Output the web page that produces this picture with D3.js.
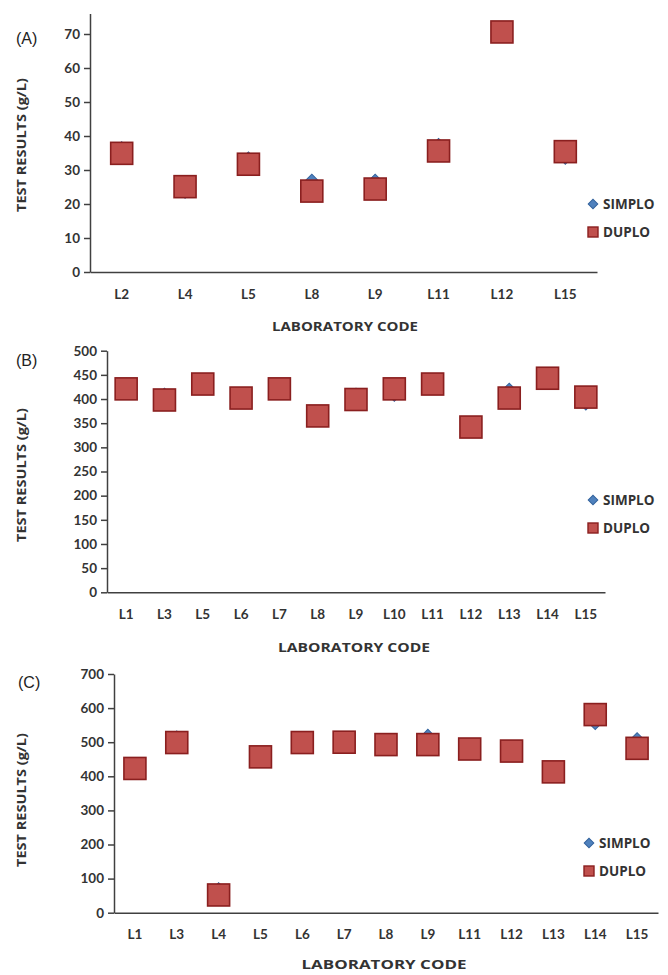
<!DOCTYPE html>
<html>
<head>
<meta charset="utf-8">
<script src="https://cdn.jsdelivr.net/npm/d3@7"></script>
<style>
  body { margin: 0; background: #fff; }
  svg text { font-family: Lato, "Open Sans", sans-serif; }
  .tick text { font-size: 13.5px; font-weight: bold; fill: #333; }
  .axis path, .axis line { stroke: #404040; stroke-width: 1.5; }
  .axis-title { font-size: 13px; font-weight: bold; fill: #333; font-family: "Open Sans", sans-serif !important; }
  .panel-label { font-size: 16px; fill: #222; font-family: "Liberation Sans", Arial, sans-serif !important; }
  .legend text { font-size: 13.5px; font-weight: bold; fill: #333; font-family: "Open Sans", sans-serif !important; }
</style>
</head>
<body>
<div id="chart"></div>
<script>
// ---- data ----
const labsA = ["L2", "L4", "L5", "L8", "L9", "L11", "L12", "L15"];
const simploA = [36.5, 23.5, 33.5, 27, 27, 37.5, 70.7, 33.5];
const duploA = [34.9, 25.1, 31.7, 23.8, 24.4, 35.6, 70.6, 35.4];
const ticksA = [0, 10, 20, 30, 40, 50, 60, 70];

const labsB = ["L1", "L3", "L5", "L6", "L7", "L8", "L9", "L10", "L11", "L12", "L13", "L14", "L15"];
const simploB = [430, 410, 440, 402, 421, 368, 410, 408, 440, 345, 420, 440, 390];
const duploB = [421, 398, 431, 402, 421, 365, 399, 421, 431, 342, 402, 443, 404];
const ticksB = [0, 50, 100, 150, 200, 250, 300, 350, 400, 450, 500];

const labsC = ["L1", "L3", "L4", "L5", "L6", "L7", "L8", "L9", "L11", "L12", "L13", "L14", "L15"];
const simploC = [420, 515, 70, 445, 510, 510, 505, 520, 480, 475, 410, 555, 510];
const duploC = [423, 499, 52, 457, 499, 500, 493, 493, 480, 474, 413, 581, 482];
const ticksC = [0, 100, 200, 300, 400, 500, 600, 700];

const seriesNames = ["SIMPLO", "DUPLO"];

class ScatterPanel {
    constructor(_config){
        this.config = _config;
        this.initVis();
    }

    initVis(){
        let vis = this;
        let c = vis.config;
        let key = c.label.replace(/[()]/g, '');

        vis.xScale = d3.scaleBand()
            .domain(c.labs)
            .range([c.left, c.right]);

        vis.yScale = d3.scaleLinear()
            .domain([0, c.yMax])
            .range([c.bottom, c.top]);

        // y axis
        vis.svg = c.svg;
        vis.svg.append("g")
            .attr("class", "axis y-axis")
            .attr("transform", `translate(${c.left},0)`)
            .call(d3.axisLeft(vis.yScale).tickValues(c.ticks).tickSize(6).tickPadding(4).tickSizeOuter(0));

        // x axis
        vis.svg.append("g")
            .attr("class", "axis x-axis")
            .attr("transform", `translate(0,${c.bottom})`)
            .call(d3.axisBottom(vis.xScale).tickSize(0).tickPadding(17).tickSizeOuter(0));

        // axis titles
        vis.svg.append("text")
            .attr("class", "axis-title")
            .attr("text-anchor", "middle")
            .attr("transform", `translate(${c.yTitleX},${c.yTitleY}) rotate(-90)`)
            .attr("textLength", 134)
            .attr("lengthAdjust", "spacingAndGlyphs")
            .text("TEST RESULTS (g/L)");

        vis.svg.append("text")
            .attr("class", "axis-title")
            .attr("text-anchor", "middle")
            .attr("x", c.xTitleX)
            .attr("y", c.xTitleY)
            .attr("textLength", c.xTitleW)
            .attr("lengthAdjust", "spacingAndGlyphs")
            .text("LABORATORY CODE");

        vis.svg.append("text")
            .attr("class", "panel-label")
            .attr("x", c.labelX)
            .attr("y", c.labelY)
            .text(c.label);

        // SIMPLO diamonds (behind)
        vis.svg.selectAll(".simplo" + key)
            .data(c.labs.map((l, i) => ({lab: l, v: c.simplo[i]})))
            .enter()
        .append("rect")
            .attr("class", "simplo" + key)
            .attr("x", -4.3).attr("y", -4.3)
            .attr("width", 8.6).attr("height", 8.6)
            .attr("transform", d => `translate(${vis.xScale(d.lab) + vis.xScale.bandwidth() / 2},${vis.yScale(d.v)}) rotate(45)`)
            .attr("fill", "#4F81BD")
            .attr("stroke", "#35649E")
            .attr("stroke-width", 1);

        // DUPLO squares (front)
        vis.svg.selectAll(".duplo" + key)
            .data(c.labs.map((l, i) => ({lab: l, v: c.duplo[i]})))
            .enter()
        .append("rect")
            .attr("class", "duplo" + key)
            .attr("x", d => vis.xScale(d.lab) + vis.xScale.bandwidth() / 2 - 11)
            .attr("y", d => vis.yScale(d.v) - 11)
            .attr("width", 22).attr("height", 22)
            .attr("fill", "#C0504D")
            .attr("stroke", "#8A1F1F")
            .attr("stroke-width", 1.6);

        // legend
        let lg = vis.svg.append("g").attr("class", "legend")
            .attr("transform", `translate(${c.legendX},${c.legendY})`);
        lg.append("rect")
            .attr("x", -3.4).attr("y", -3.4).attr("width", 6.8).attr("height", 6.8)
            .attr("transform", "rotate(45)")
            .attr("fill", "#4F81BD").attr("stroke", "#35649E");
        lg.append("rect")
            .attr("x", -5).attr("y", 23).attr("width", 10).attr("height", 10)
            .attr("fill", "#C0504D").attr("stroke", "#8A1F1F").attr("stroke-width", 1.4);
        lg.selectAll(".lgtext")
            .data(seriesNames)
            .enter()
        .append("text")
            .attr("x", 10)
            .attr("y", (d, i) => i * 28)
            .attr("dy", "0.36em")
            .text(d => d);
    }
}

const svg = d3.select("#chart").append("svg")
    .attr("width", 668)
    .attr("height", 975);

new ScatterPanel({svg: svg, label: "(A)", labs: labsA, simplo: simploA, duplo: duploA, ticks: ticksA,
    yMax: 76, left: 90, right: 597, top: 13.6, bottom: 272,
    yTitleX: 26, yTitleY: 145, xTitleX: 345, xTitleY: 331, xTitleW: 146, labelX: 16, labelY: 44,
    legendX: 593, legendY: 204});

new ScatterPanel({svg: svg, label: "(B)", labs: labsB, simplo: simploB, duplo: duploB, ticks: ticksB,
    yMax: 500, left: 107, right: 605, top: 350.7, bottom: 592.3,
    yTitleX: 26, yTitleY: 475, xTitleX: 354, xTitleY: 652, xTitleW: 152, labelX: 16, labelY: 366,
    legendX: 593, legendY: 500});

new ScatterPanel({svg: svg, label: "(C)", labs: labsC, simplo: simploC, duplo: duploC, ticks: ticksC,
    yMax: 700, left: 114, right: 658, top: 674, bottom: 912.7,
    yTitleX: 26, yTitleY: 800, xTitleX: 384, xTitleY: 969, xTitleW: 165, labelX: 18, labelY: 688,
    legendX: 589, legendY: 843});
</script>
</body>
</html>
